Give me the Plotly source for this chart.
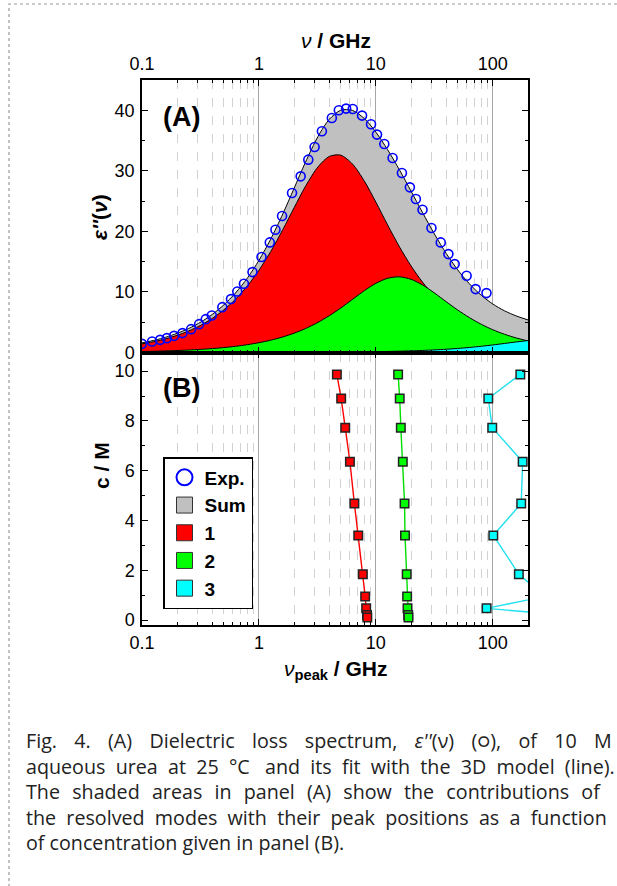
import plotly.graph_objects as go

# ---------------- Panel A data ----------------
freq = [0.1, 0.13, 0.16, 0.2, 0.25, 0.32, 0.4, 0.5, 0.63, 0.8, 1.0, 1.26, 1.6, 2.0, 2.5,
        3.2, 4.0, 5.0, 6.3, 8.0, 10, 12.6, 16, 20, 25, 32, 40, 50, 63, 80, 100, 126, 160, 200]
sum_eps = [1.58, 2.06, 2.53, 3.17, 3.95, 5.05, 6.30, 7.84, 9.82, 12.35, 15.21, 18.71, 22.88, 27.13,
           31.43, 35.68, 38.52, 40.00, 39.99, 38.60, 36.39, 33.49, 30.08, 26.64, 23.15, 19.41,
           16.34, 13.67, 11.35, 9.42, 8.01, 6.88, 6.01, 5.38]
mode1_eps = [1.42, 1.85, 2.27, 2.84, 3.54, 4.53, 5.64, 7.03, 8.79, 11.04, 13.58, 16.66, 20.29, 23.91,
             27.44, 30.66, 32.38, 32.59, 31.14, 28.26, 24.83, 21.07, 17.37, 14.29, 11.64, 9.21,
             7.42, 5.97, 4.75, 3.75, 3.00, 2.38, 1.88, 1.50]
mode2_eps = [0.16, 0.21, 0.26, 0.33, 0.41, 0.52, 0.65, 0.81, 1.02, 1.30, 1.62, 2.03, 2.57, 3.19,
             3.95, 4.98, 6.08, 7.34, 8.76, 10.23, 11.42, 12.25, 12.49, 12.08, 11.17, 9.77,
             8.38, 7.03, 5.77, 4.64, 3.76, 3.01, 2.38, 1.91]
mode3_eps = [0.001, 0.002, 0.002, 0.003, 0.003, 0.004, 0.006, 0.007, 0.009, 0.011, 0.014, 0.017,
             0.022, 0.027, 0.034, 0.044, 0.055, 0.068, 0.086, 0.109, 0.137, 0.172, 0.218, 0.273,
             0.340, 0.434, 0.539, 0.668, 0.830, 1.031, 1.247, 1.493, 1.752, 1.969]

exp_freq = [0.100, 0.122, 0.143, 0.163, 0.188, 0.222, 0.263, 0.308, 0.351, 0.395, 0.486, 0.577,
            0.653, 0.744, 0.881, 1.052, 1.238, 1.384, 1.577, 1.919, 2.275, 2.644, 2.993, 3.455,
            4.203, 4.822, 5.567, 6.343, 7.618, 9.09, 10.23, 11.81, 13.90, 16.70, 19.53, 21.98,
            25.05, 29.88, 35.88, 41.7, 47.2, 59.7, 71.3, 88.3]
exp_eps = [1.43, 1.82, 2.09, 2.37, 2.75, 3.20, 3.86, 4.68, 5.51, 6.12, 7.49, 8.82, 10.08, 11.35,
           13.28, 15.76, 18.18, 20.28, 22.53, 26.34, 29.09, 31.85, 33.94, 36.53, 38.73, 40.0,
           40.28, 40.22, 39.12, 37.69, 35.98, 34.44, 32.12, 29.64, 27.27, 25.34, 23.58, 20.55,
           18.18, 16.25, 14.60, 12.67, 10.47, 9.81]

# ---------------- Panel B data ----------------
conc = [9.87, 8.90, 7.73, 6.36, 4.68, 3.40, 1.84, 0.95, 0.47, 0.20, 0.10]
peak1 = [4.64, 5.05, 5.47, 6.00, 6.55, 7.07, 7.74, 8.10, 8.26, 8.40, 8.45]
peak2 = [15.5, 16.0, 16.35, 17.0, 17.6, 17.75, 18.35, 18.5, 18.65, 18.9, 19.0]
peak3 = [172, 91.5, 98.9, 180, 175, 101, 167, 280, 88.5, 550, 700]

legend_names = ["Exp.", "Sum", "1", "2", "3"]

caption_words = [
    ["Fig.", "4.", "(A)", "Dielectric", "loss", "spectrum,", "<i>ε''</i>(ν)", "(○),", "of",
     "10", "M"],
    ["aqueous", "urea", "at", "25", "°C\u00a0", "and", "its", "fit", "with", "the", "3D",
     "model", "(line)."],
    ["The", "shaded", "areas", "in", "panel", "(A)", "show", "the", "contributions", "of"],
    ["the", "resolved", "modes", "with", "their", "peak", "positions", "as", "a", "function"],
    ["of", "concentration", "given", "in", "panel", "(B)."],
]
# extra word spacing per line (to imitate the justified paragraph)
caption_gaps = [" \u00a0\u00a0\u200a", " \u00a0", " \u00a0\u200a", " \u00a0", " "]

# ---------------- geometry helpers ----------------
W, H = 617, 886
ML, MR, MT, MB = 142, 89, 80, 261
PW, PH = W - ML - MR, H - MT - MB


def px(x, y):
    return (x - ML) / PW, (H - MB - y) / PH


C_GRAY = "#c0c0c0"
C_RED = "#ff0000"
C_GREEN = "#00ff00"
C_CYAN = "#00ffff"
AX_FONT = "Liberation Sans, Arial, sans-serif"

fig = go.Figure()

# filled contributions (panel A)
for vals, col, nm in [(sum_eps, C_GRAY, "Sum"), (mode1_eps, C_RED, "1"),
                      (mode2_eps, C_GREEN, "2"), (mode3_eps, C_CYAN, "3")]:
    fig.add_trace(go.Scatter(x=freq, y=vals, mode="lines", fill="tozeroy", fillcolor=col,
                             line=dict(color="black", width=1, shape="spline", smoothing=0.8),
                             showlegend=False, xaxis="x", yaxis="y", name=nm))

fig.add_trace(go.Scatter(x=exp_freq, y=exp_eps, mode="markers", showlegend=False,
                         marker=dict(symbol="circle-open", size=9, color="#0000ff",
                                     line=dict(width=1.6, color="#0000ff")),
                         xaxis="x", yaxis="y", name="Exp."))

# panel B peak positions
for pk, lc, mc in [(peak1, "#ff0000", C_RED), (peak2, "#00dd00", C_GREEN), (peak3, "#20e0f0", C_CYAN)]:
    fig.add_trace(go.Scatter(x=pk, y=conc, mode="lines+markers", showlegend=False,
                             line=dict(color=lc, width=1.4),
                             marker=dict(symbol="square", size=8.5, color=mc,
                                         line=dict(color="#222222", width=1.5)),
                             xaxis="x2", yaxis="y2", cliponaxis=True))

# legend-only entries
leg_styles = [
    dict(symbol="circle-open", size=16, color="#0000ff", line=dict(width=2, color="#0000ff")),
    dict(symbol="square", size=16, color=C_GRAY, line=dict(width=1, color="#333333")),
    dict(symbol="square", size=16, color=C_RED, line=dict(width=1, color="#333333")),
    dict(symbol="square", size=16, color=C_GREEN, line=dict(width=1, color="#333333")),
    dict(symbol="square", size=16, color=C_CYAN, line=dict(width=1, color="#333333")),
]
for nm, st in zip(legend_names, leg_styles):
    fig.add_trace(go.Scatter(x=[None], y=[None], mode="markers", name=nm, marker=st,
                             xaxis="x2", yaxis="y2", showlegend=True))

xcommon = dict(type="log", range=[-1, 2.30103], dtick=1, showline=True, linecolor="black",
               linewidth=1.5, mirror="ticks", ticks="inside", ticklen=6, tickwidth=1.3,
               tickcolor="black", showgrid=True, gridcolor="#a6a6a6", gridwidth=1,
               zeroline=False, ticklabelstandoff=1,
               tickfont=dict(family=AX_FONT, size=18, color="black"),
               minor=dict(ticks="inside", ticklen=3, tickwidth=1, tickcolor="black",
                          dtick="D1", showgrid=True, gridcolor="#d2d2d2", griddash="dash",
                          gridwidth=1))
ycommon = dict(showline=True, linecolor="black", linewidth=1.5, mirror="ticks", ticks="inside",
               ticklen=6, tickwidth=1.3, tickcolor="black", showgrid=False, zeroline=False,
               ticklabelstandoff=2, tickfont=dict(family=AX_FONT, size=18, color="black"))

fig.update_layout(
    width=W, height=H, margin=dict(l=ML, r=MR, t=MT, b=MB),
    paper_bgcolor="white", plot_bgcolor="white",
    xaxis=dict(**xcommon, domain=[0, 1], anchor="y", side="top"),
    yaxis=dict(**ycommon, domain=[0.5, 1], anchor="x", range=[0, 45], dtick=10,
               minor=dict(ticks="inside", ticklen=3, tickwidth=1, tickcolor="black", dtick=5)),
    xaxis2=dict(**xcommon, domain=[0, 1], anchor="y2", side="bottom", matches="x"),
    yaxis2=dict(**ycommon, domain=[0, 0.5], anchor="x2", range=[-0.2, 10.75], dtick=2,
                minor=dict(ticks="inside", ticklen=3, tickwidth=1, tickcolor="black", dtick=1)),
    legend=dict(x=px(163, 0)[0], y=px(0, 457)[1], xanchor="left", yanchor="top",
                bgcolor="white", bordercolor="black", borderwidth=1.5,
                font=dict(family=AX_FONT, size=19, color="black", weight="bold"),
                itemsizing="trace", tracegroupgap=0),
    showlegend=True,
)

ann = []


def add_text(x, y, text, size, angle=0, family=AX_FONT, xanchor="center", color="black",
             align="center"):
    xp, yp = px(x, y)
    ann.append(dict(x=xp, y=yp, xref="paper", yref="paper", text=text, showarrow=False,
                    textangle=angle, xanchor=xanchor, yanchor="middle", align=align,
                    font=dict(family=family, size=size, color=color)))


add_text(336, 40, "<i>ν</i><b> / GHz</b>", 21)
add_text(336, 670, "<i>ν</i><sub><b>peak</b></sub><b> / GHz</b>", 21)
add_text(100, 217, "<b><i>ε''</i>(<i>ν</i>)</b>", 21, angle=-90)
add_text(102, 466, "<b>c / M</b>", 21, angle=-90)
add_text(181, 117, "<b>(A)</b>", 27)
add_text(181, 388, "<b>(B)</b>", 27)

caption_text = "<br>".join(gap.join(words) for words, gap in zip(caption_words, caption_gaps))
add_text(24, 740 + 2 * 25.6, caption_text, 19.7, family="Open Sans, Lato, sans-serif",
         xanchor="left", color="#222222", align="left")

fig.update_layout(annotations=ann)

x0, y0 = px(9, 4)
x1, y1 = px(622, 892)
fig.add_shape(type="rect", xref="paper", yref="paper", x0=x0, y0=y1, x1=x1, y1=y0,
              line=dict(color="#9a9a9a", width=1.2, dash="dot"), layer="above")

fig.write_html("out.html", config={"displayModeBar": False},
               post_script="document.body.style.margin='0';document.body.style.overflow='hidden';")
